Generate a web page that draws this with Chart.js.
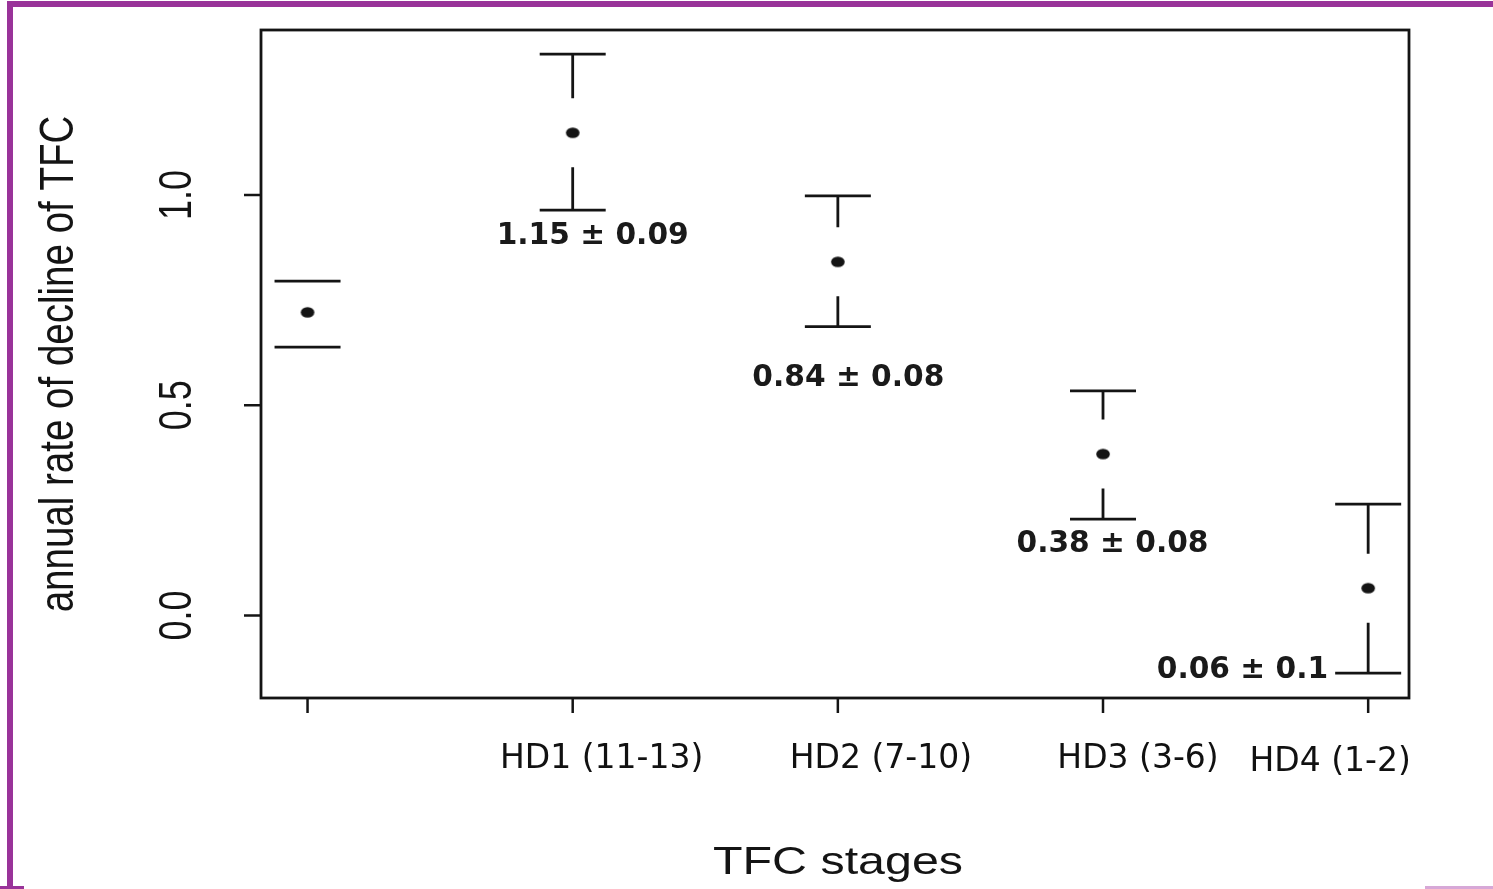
<!DOCTYPE html>
<html><head><meta charset="utf-8">
<script src="https://cdn.jsdelivr.net/npm/chart.js@4.4.1/dist/chart.umd.min.js"></script>
<style>html,body{margin:0;padding:0;background:#fff;overflow:hidden}canvas{display:block}</style>
</head><body>
<canvas id="c" width="1493" height="889" style="width:1493px;height:889px"></canvas>
<script>
// ---------- data ----------
const categories = ['', 'HD1 (11-13)', 'HD2 (7-10)', 'HD3 (3-6)', 'HD4 (1-2)'];
const means = [0.721, 1.148, 0.841, 0.384, 0.065];
const upper = [0.795, 1.335, 0.998, 0.534, 0.265];
const lower = [0.638, 0.964, 0.687, 0.229, -0.137];
const annotations = ['', '1.15 ± 0.09', '0.84 ± 0.08', '0.38 ± 0.08', '0.06 ± 0.1'];
const yTicks = [0.0, 0.5, 1.0];
const yTickLabels = ['0.0', '0.5', '1.0'];
const xTitle = 'TFC stages';
const yTitle = 'annual rate of decline of TFC';

// ---------- styles ----------
const INK = '#141414';
const PURPLE = '#993399';
const SCAN_FONT = '"Liberation Sans", Arial, sans-serif';
const OVER_FONT = '"DejaVu Sans", Verdana, sans-serif';
const annoStyle = [null,
  {dx: 20, dy: 34, align: 'center'},
  {dx: 10.5, dy: 59, align: 'center'},
  {dx: 9.5, dy: 33, align: 'center'},
  {dx: -40, dy: 5, align: 'right'}];
const xLabelStyle = [null, {dx: 29, y: 768}, {dx: 43, y: 768}, {dx: 35, y: 768}, {dx: -38, y: 771}];

// point glyph: slightly wide ellipse as in the scanned figure
const dot = document.createElement('canvas');
dot.width = 16; dot.height = 13;
(function(){ const g = dot.getContext('2d'); g.fillStyle = INK; g.beginPath(); g.ellipse(8, 6.5, 6.8, 5.3, 0, 0, Math.PI*2); g.fill(); })();

function drawText(ctx, text, x, y, o) {
  ctx.save();
  ctx.fillStyle = o.color || INK;
  ctx.textAlign = o.align || 'center';
  ctx.textBaseline = 'alphabetic';
  let size = o.size;
  if (o.fitLength) {
    ctx.font = '40px ' + o.family;
    size = 40 * o.fitLength / ctx.measureText(text).width;
  }
  ctx.font = (o.weight ? o.weight + ' ' : '') + size + 'px ' + o.family;
  let sx = o.sx || 1;
  if (o.width) sx = o.width / ctx.measureText(text).width;
  ctx.translate(x, y);
  ctx.scale(sx, 1);
  if (o.rotate) ctx.rotate(o.rotate);
  ctx.fillText(text, 0, 0);
  ctx.restore();
}

const figurePlugin = {
  id: 'figure',
  beforeDatasetsDraw(chart) {
    const ctx = chart.ctx, xs = chart.scales.x, ys = chart.scales.y;
    ctx.save();
    ctx.strokeStyle = INK;
    ctx.lineWidth = 2.8;
    ctx.lineCap = 'butt';
    const capHalf = 33, gap = 34.5;
    for (let i = 0; i < means.length; i++) {
      const px = xs.getPixelForValue(i);
      const pm = ys.getPixelForValue(means[i]);
      const pu = ys.getPixelForValue(upper[i]);
      const pl = ys.getPixelForValue(lower[i]);
      ctx.beginPath();
      ctx.moveTo(px - capHalf, pu); ctx.lineTo(px + capHalf, pu);
      ctx.moveTo(px - capHalf, pl); ctx.lineTo(px + capHalf, pl);
      if (pm - gap > pu) { ctx.moveTo(px, pu); ctx.lineTo(px, pm - gap); }
      if (pm + gap < pl) { ctx.moveTo(px, pm + gap); ctx.lineTo(px, pl); }
      ctx.stroke();
    }
    ctx.restore();
  },
  afterDraw(chart) {
    const ctx = chart.ctx, a = chart.chartArea, xs = chart.scales.x, ys = chart.scales.y;
    ctx.save();
    // plot frame
    ctx.strokeStyle = INK;
    ctx.lineWidth = 2.8;
    ctx.strokeRect(a.left, a.top, a.right - a.left, a.bottom - a.top);
    // y ticks and labels
    ctx.lineWidth = 2.5;
    yTicks.forEach((v, k) => {
      const py = ys.getPixelForValue(v);
      ctx.beginPath(); ctx.moveTo(a.left - 17, py); ctx.lineTo(a.left, py); ctx.stroke();
      drawText(ctx, yTickLabels[k], 191, py, {family: SCAN_FONT, size: 36, sx: 1.28, rotate: -Math.PI/2});
    });
    // x ticks and labels
    categories.forEach((c, i) => {
      const px = xs.getPixelForValue(i);
      ctx.beginPath(); ctx.moveTo(px, a.bottom); ctx.lineTo(px, a.bottom + 15); ctx.stroke();
      if (c && xLabelStyle[i]) {
        drawText(ctx, c, px + xLabelStyle[i].dx, xLabelStyle[i].y, {family: OVER_FONT, size: 33, color: '#111'});
      }
    });
    // annotations
    annotations.forEach((t, i) => {
      if (!t) return;
      const s = annoStyle[i];
      const px = xs.getPixelForValue(i), pl = ys.getPixelForValue(lower[i]);
      drawText(ctx, t, px + s.dx, pl + s.dy, {family: OVER_FONT, size: 29.7, weight: 'bold', align: s.align, color: '#1a1a1a'});
    });
    // axis titles
    drawText(ctx, xTitle, 838, 874, {family: SCAN_FONT, size: 38.5, width: 250});
    drawText(ctx, yTitle, 73, (a.top + a.bottom) / 2 + 0, {family: SCAN_FONT, fitLength: 497, sx: 1.23, rotate: -Math.PI/2});
    // purple page frame
    ctx.fillStyle = PURPLE;
    ctx.fillRect(7, 1, 1486, 6);
    ctx.fillRect(7, 1, 6, 888);
    ctx.fillRect(0, 886, 24, 3);
    ctx.fillStyle = '#d7a8d7';
    ctx.fillRect(1425, 886, 68, 3);
    ctx.restore();
  }
};

new Chart(document.getElementById('c'), {
  type: 'scatter',
  data: {
    datasets: [{
      data: means.map((m, i) => ({x: i, y: m})),
      pointStyle: dot,
      pointRadius: 7,
      pointHoverRadius: 7,
      showLine: false
    }]
  },
  options: {
    responsive: false,
    animation: false,
    events: [],
    layout: {padding: {left: 261, top: 30, right: 84, bottom: 191}},
    plugins: {legend: {display: false}, tooltip: {enabled: false}, title: {display: false}},
    scales: {
      x: {type: 'linear', display: false, min: -0.1755, max: 4.154},
      y: {type: 'linear', display: false, min: -0.1962, max: 1.3924}
    }
  },
  plugins: [figurePlugin]
});
</script>
</body></html>
